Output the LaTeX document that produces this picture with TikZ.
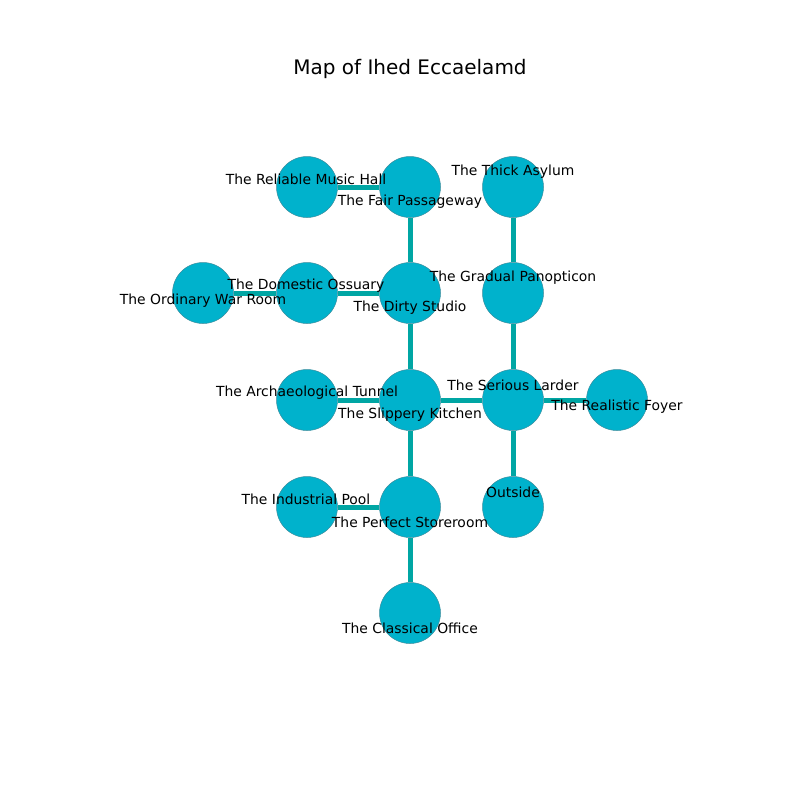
\documentclass[tikz,border=0pt]{standalone}
\usepackage{fontspec}
\setmainfont{DejaVu Sans}
\definecolor{nodefill}{HTML}{00B2CC}
\definecolor{nodeedge}{HTML}{3A8C9C}
\definecolor{edgecol}{HTML}{00A6A4}
\tikzset{
  room/.style={circle, fill=nodefill, draw=nodeedge, line width=0.5pt, minimum size=61pt, inner sep=0pt},
  link/.style={draw=edgecol, line width=5pt},
  lbl/.style={font=\fontsize{13.9}{15}\selectfont, inner sep=0pt, anchor=center, yshift=-1pt}
}
\begin{document}
\begin{tikzpicture}[x=1pt,y=-1pt]
\useasboundingbox (0,0) rectangle (800,800);
\node[font=\fontsize{20}{22}\selectfont] (title) at (410,69) {Map of Ihed Eccaelamd};
% rooms
\node[room] (rmh) at (307,187) {};
\node[room] (fp) at (410,187) {};
\node[room] (ta) at (513,187) {};
\node[room] (owr) at (203,293) {};
\node[room] (do) at (307,293) {};
\node[room] (ds) at (410,293) {};
\node[room] (gp) at (513,293) {};
\node[room] (at) at (307,400) {};
\node[room] (sk) at (410,400) {};
\node[room] (sl) at (513,400) {};
\node[room] (rf) at (617,400) {};
\node[room] (ip) at (307,507) {};
\node[room] (ps) at (410,507) {};
\node[room] (out) at (513,507) {};
\node[room] (co) at (410,613) {};
% links
\path[link] (rmh) -- (fp);
\path[link] (fp) -- (ds);
\path[link] (ta) -- (gp);
\path[link] (owr) -- (do);
\path[link] (do) -- (ds);
\path[link] (ds) -- (sk);
\path[link] (gp) -- (sl);
\path[link] (at) -- (sk);
\path[link] (sk) -- (sl);
\path[link] (sl) -- (rf);
\path[link] (sl) -- (out);
\path[link] (sk) -- (ps);
\path[link] (ip) -- (ps);
\path[link] (ps) -- (co);
% labels
\node[lbl] (l1) at (306,178) {The Reliable Music Hall};
\node[lbl] (l2) at (410,201) {The Fair Passageway};
\node[lbl] (l3) at (513,171) {The Thick Asylum};
\node[lbl] (l4) at (513,277) {The Gradual Panopticon};
\node[lbl] (l5) at (306,285) {The Domestic Ossuary};
\node[lbl] (l6) at (203,300) {The Ordinary War Room};
\node[lbl] (l7) at (410,307) {The Dirty Studio};
\node[lbl] (l8) at (307,392) {The Archaeological Tunnel};
\node[lbl] (l9) at (410,414) {The Slippery Kitchen};
\node[lbl] (l10) at (513,384) {The Serious Larder};
\node[lbl] (l11) at (617,406) {The Realistic Foyer};
\node[lbl] (l12) at (306,498) {The Industrial Pool};
\node[lbl] (l13) at (410,521) {The Perfect Storeroom};
\node[lbl] (l14) at (513,491) {Outside};
\node[lbl] (l15) at (410,627) {The Classical Office};
\end{tikzpicture}
\end{document}
